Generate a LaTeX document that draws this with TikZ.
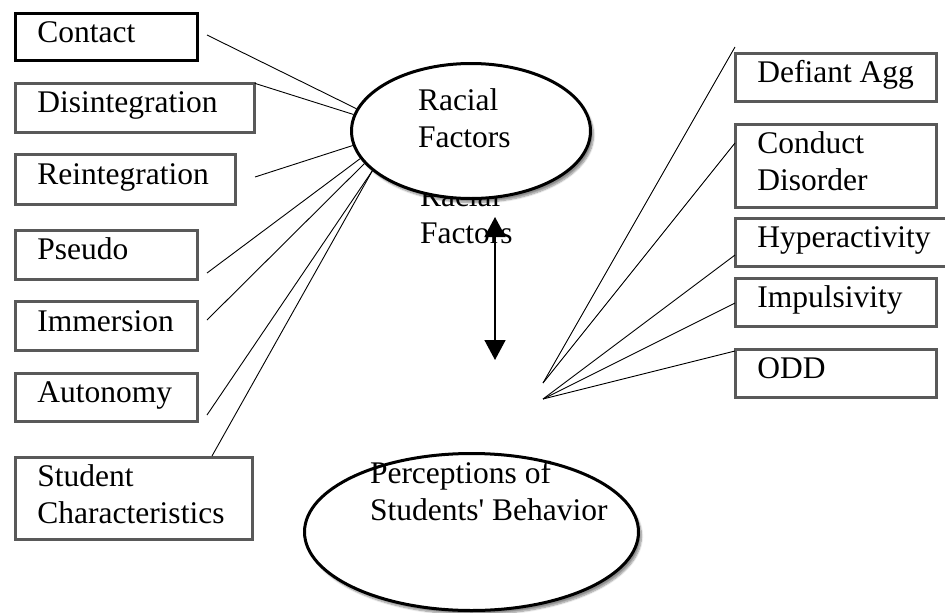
\documentclass[tikz,border=0pt]{standalone}
\usepackage{fontspec}
\setmainfont{Liberation Serif}[Ligatures=TeXOff]
\usetikzlibrary{shapes.geometric,arrows.meta,shadows.blur,calc}
\definecolor{boxgray}{RGB}{89,89,89}
\newcommand\twolines[2]{\begin{tabular}[t]{@{}l@{}}#1\\#2\end{tabular}}
\begin{document}
\begin{tikzpicture}[x=1pt,y=-1pt,
  font=\fontsize{31.5}{37}\selectfont,
  box/.style={draw=boxgray,line width=2.6pt,rectangle,anchor=north west,inner sep=0pt,outer sep=0pt},
  blackbox/.style={box,draw=black},
  txt/.style={anchor=base west,inner sep=0pt,outer sep=0pt},
  oval/.style={ellipse,draw=black,line width=3pt,fill=white,inner sep=0pt,
     blur shadow={shadow xshift=3pt,shadow yshift=-4pt,shadow blur steps=8,shadow opacity=45}},
  conn/.style={line width=0.9pt,draw=black},
  dblarrow/.style={line width=1.6pt,{Triangle[width=21pt,length=20pt]}-{Triangle[width=21pt,length=20pt]}}]
\useasboundingbox (0,0) rectangle (945,613);

% left boxes
\node[blackbox,minimum width=182.4pt,minimum height=47.4pt] (contact) at (15.3,13.3) {};
\node[box,minimum width=239.4pt,minimum height=49.4pt] (disint) at (15.3,83.3) {};
\node[box,minimum width=220.4pt,minimum height=50.4pt] (reint) at (15.3,154.3) {};
\node[box,minimum width=182.4pt,minimum height=49.4pt] (pseudo) at (15.3,230.3) {};
\node[box,minimum width=182.4pt,minimum height=49.4pt] (immersion) at (15.3,301.3) {};
\node[box,minimum width=182.4pt,minimum height=48.4pt] (autonomy) at (15.3,373.3) {};
\node[box,minimum width=237.4pt,minimum height=82.4pt] (student) at (15.3,457.3) {};

\node[txt] (contact-t) at ($(contact.north west)+(22,29.5)$) {Contact};
\node[txt] (disint-t) at ($(disint.north west)+(22,29.5)$) {Disintegration};
\node[txt] (reint-t) at ($(reint.north west)+(22,30.5)$) {Reintegration};
\node[txt] (pseudo-t) at ($(pseudo.north west)+(22,29.5)$) {Pseudo};
\node[txt] (immersion-t) at ($(immersion.north west)+(22,30.5)$) {Immersion};
\node[txt] (autonomy-t) at ($(autonomy.north west)+(22,29)$) {Autonomy};
\node[txt] (student-t) at ($(student.north west)+(22,29.5)$) {\twolines{Student}{Characteristics}};

% right boxes
\node[box,minimum width=201.4pt,minimum height=48.4pt] (defiant) at (735.3,53.3) {};
\node[box,minimum width=201.4pt,minimum height=83.4pt] (conduct) at (735.3,124.3) {};
\node[box,minimum width=215pt,minimum height=48.4pt] (hyper) at (735.3,218.3) {};
\node[box,minimum width=201.4pt,minimum height=48.4pt] (impuls) at (735.3,278.3) {};
\node[box,minimum width=201.4pt,minimum height=48.4pt] (odd) at (735.3,349.3) {};

\node[txt] (defiant-t) at ($(defiant.north west)+(22,29)$) {Defiant Agg};
\node[txt] (conduct-t) at ($(conduct.north west)+(22,29)$) {\twolines{Conduct}{Disorder}};
\node[txt] (hyper-t) at ($(hyper.north west)+(22,29.5)$) {Hyperactivity};
\node[txt] (impuls-t) at ($(impuls.north west)+(22,29)$) {Impulsivity};
\node[txt] (odd-t) at ($(odd.north west)+(22,29)$) {ODD};

% hidden duplicate text under the top ellipse
\node[txt] (dup-t) at (420,206) {\twolines{Racial}{Factors}};

% ellipses
\node[oval,minimum width=239pt,minimum height=135pt] (racial) at (471,131) {};
\node[txt] (racial-t) at (418,110) {\twolines{Racial}{Factors}};
\node[oval,minimum width=334pt,minimum height=157pt] (percep) at (471.5,532) {};
\node[txt] (percep-t) at (370,483) {\twolines{Perceptions of}{Students' Behavior}};

% free connector ends
\coordinate (l1) at (207,35);
\coordinate (l3) at (255,177);
\coordinate (l4) at (207,273);
\coordinate (l5) at (207,320);
\coordinate (l6) at (207,415);
\coordinate (l7) at (212,456);
\coordinate (r1) at (735,47);
\coordinate (r2) at (735,143);
\coordinate (r3) at (735,255);
\coordinate (r4) at (735,303);
\coordinate (r5) at (735,351);
\coordinate (p1) at (543,383);
\coordinate (p2) at (543,399);
\coordinate (atop) at (495,217);
\coordinate (abot) at (495,360);

% left connectors
\draw[conn] (l1) -- (racial.169.7);
\draw[conn] (disint.north east) -- (racial.172.3);
\draw[conn] (l3) -- (racial.187.2);
\draw[conn] (l4) -- (racial.194.4);
\draw[conn] (l5) -- (racial.197.9);
\draw[conn] (l6) -- (racial.202.5);
\draw[conn] (l7) -- (racial.202.9);

% right connectors
\draw[conn] (r1) -- (p1);
\draw[conn] (r2) -- (p1);
\draw[conn] (r3) -- (p2);
\draw[conn] (r4) -- (p2);
\draw[conn] (r5) -- (p2);

% double arrow
\draw[dblarrow] (atop) -- (abot);
\end{tikzpicture}
\end{document}
